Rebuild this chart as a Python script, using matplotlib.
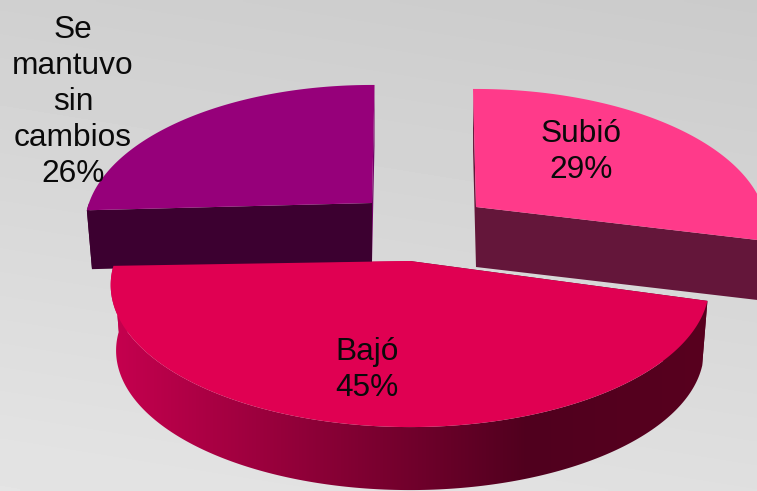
#!/usr/bin/env python3

import numpy as np
import matplotlib
matplotlib.use("Agg")
import matplotlib.pyplot as plt
from matplotlib.colors import LinearSegmentedColormap
from matplotlib.patches import Polygon

# Chart data
categories = ["Subió", "Bajó", "Se\nmantuvo\nsin\ncambios"]
percentages = [29, 45, 26]

# Look of each slice, same order as the data
apex_x = [476, 410, 372]
apex_y = [207, 261, 203]
radius = [287, 295, 283]
depth = [60, 66, 59]
rotation = [-0.7, 1.6, 0.6]
top_colors = ["#FF3A8A", "#E00052", "#96007A"]
start_wall_colors = ["#64163A", "#5A0022", "#3C0030"]
end_wall_colors = ["#64163A", "#C6004F", "#720066"]
round_wall_colors = ["#64163A", None, "#3C0030"]
label_x = [581, 367, 73]
label_y = [152, 370, 102]

START_ANGLE = -90
PERSPECTIVE = 0.169
PLANE_HEIGHT = 138
BOTTOM_SCALE = 0.982

plt.rcParams["font.family"] = ["Liberation Sans", "DejaVu Sans"]


def project(t, r, cx, cy):
    # circle of the pie seen in perspective, t in degrees clockwise on screen
    u = np.cos(np.radians(t))
    v = np.sin(np.radians(t))
    s = 1 / (1 - PERSPECTIVE * v)
    return cx + r * u * s, cy + PLANE_HEIGHT * v * s


def to_bottom(x, y, cx, cy, d):
    # the lower rim is a bit smaller and shifted down
    return cx + BOTTOM_SCALE * (x - cx), cy + d + BOTTOM_SCALE * (y - cy)


fig = plt.figure(figsize=(7.57, 4.91), dpi=100)
ax = fig.add_axes([0, 0, 1, 1])
ax.set_xlim(0, 757)
ax.set_ylim(491, 0)
ax.axis("off")

# Gray background, darker on top and to the right
yy, xx = np.mgrid[0:1:120j, 0:1:180j]
shade = 0.805 + 0.08 * yy + 0.02 * (0.5 - xx)
ax.imshow(shade, extent=(0, 757, 491, 0), cmap="gray", vmin=0, vmax=1,
          aspect="auto", zorder=0, interpolation="bilinear")

wall_cmap = LinearSegmentedColormap.from_list(
    "wall",
    [(0.0, "#C6004F"), (0.70, "#50001E"), (1.0, "#58001F")],
)

# Turn the percentages into angles
sweeps = np.array(percentages) / sum(percentages) * 360
starts = START_ANGLE + np.concatenate(([0], np.cumsum(sweeps)[:-1]))

for i in [2, 0, 1]:
    cx, cy = apex_x[i], apex_y[i]
    r, d = radius[i], depth[i]
    t = np.linspace(starts[i] + rotation[i],
                    starts[i] + rotation[i] + sweeps[i], 200)
    x, y = project(t, r, cx, cy)
    bx, by = to_bottom(x, y, cx, cy, d)

    # Flat walls along both cut edges of the slice
    first_cut = np.array([[x[0], y[0]], [cx, cy], [cx, cy + d], [bx[0], by[0]]])
    last_cut = np.array([[x[-1], y[-1]], [cx, cy], [cx, cy + d], [bx[-1], by[-1]]])
    ax.add_patch(Polygon(first_cut, closed=True, color=start_wall_colors[i],
                         lw=0, zorder=2 + i))
    ax.add_patch(Polygon(last_cut, closed=True, color=end_wall_colors[i],
                         lw=0, zorder=2 + i))

    # Round outer wall, only the part that faces the viewer
    front = np.sin(np.radians(t)) > 0
    if front.any():
        ring = np.column_stack((np.concatenate((x[front], bx[front][::-1])),
                                np.concatenate((y[front], by[front][::-1]))))
        if round_wall_colors[i] is None:
            wall = Polygon(ring, closed=True, fc="none", ec="none", zorder=2 + i)
            ax.add_patch(wall)
            grad = ax.imshow(np.linspace(0, 1, 256).reshape(1, -1), cmap=wall_cmap,
                             extent=(110, 708, 491, 0), aspect="auto", zorder=2 + i)
            grad.set_clip_path(wall)
        else:
            ax.add_patch(Polygon(ring, closed=True, color=round_wall_colors[i],
                                 lw=0, zorder=2 + i))

    # Top surface
    top = np.column_stack((np.append(x, cx), np.append(y, cy)))
    ax.add_patch(Polygon(top, closed=True, color=top_colors[i], lw=0, zorder=3 + i))

for i, name in enumerate(categories):
    ax.text(label_x[i], label_y[i], f"{name}\n{percentages[i]}%", ha="center",
            va="center", multialignment="center", fontsize=22.8, color="#0A0A0A",
            linespacing=1.26, zorder=10)

ax.set_xlim(0, 757)
ax.set_ylim(491, 0)
fig.savefig("out.png", dpi=100)
plt.close(fig)
